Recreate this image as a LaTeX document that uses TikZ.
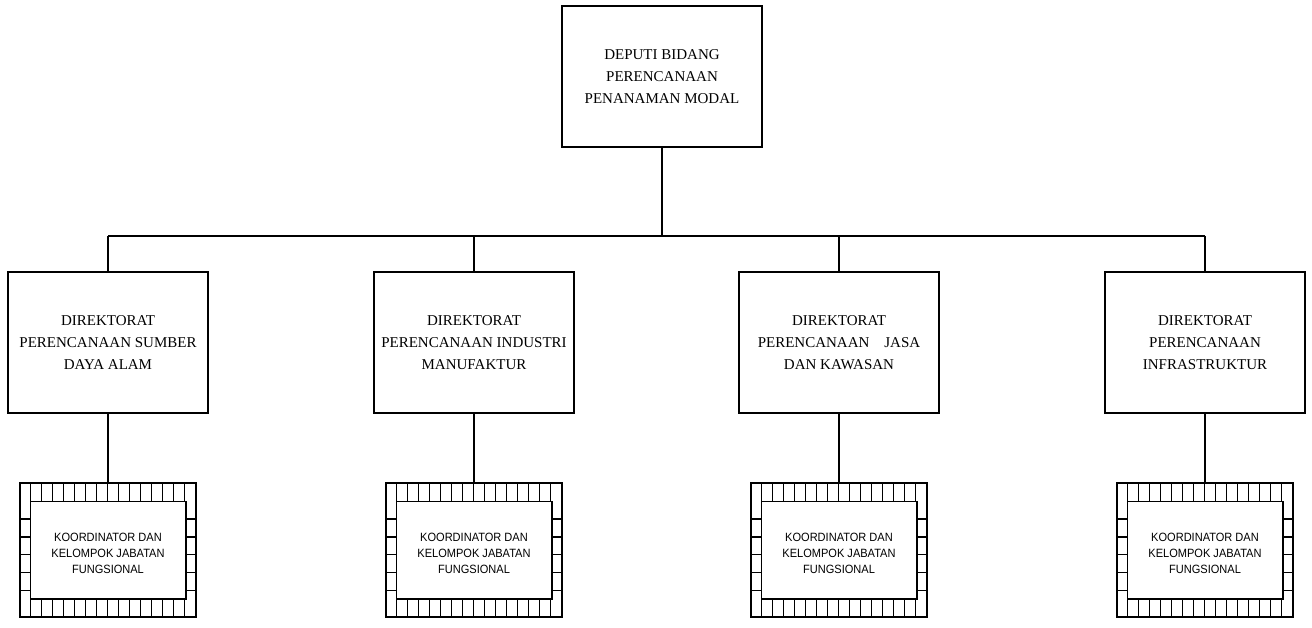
\documentclass[tikz,border=0pt]{standalone}
\usepackage{fontspec}
\setmainfont{Liberation Serif}
\newfontfamily\kfjfont[FakeStretch=0.92]{Liberation Sans}
\usetikzlibrary{calc}
\begin{document}
\begin{tikzpicture}[x=1pt,y=-1pt,
  unit/.style={draw, line width=1.8pt, minimum width=200pt, minimum height=141pt,
    inner sep=0pt, align=center, font=\fontsize{15}{22}\selectfont},
  kfjbox/.style={draw, line width=1.5pt, minimum width=176pt, minimum height=134pt, inner sep=0pt},
  kfjtext/.style={align=center, inner sep=0pt, font=\kfjfont\fontsize{12}{16.3}\selectfont},
  link/.style={line width=1.6pt},
  grid/.style={line width=1.5pt},
]
\useasboundingbox (0,0) rectangle (1312,628);

% top level
\node[unit] (deputi) at (662,76.5) {DEPUTI BIDANG\\PERENCANAAN\\PENANAMAN MODAL};

% directorates
\node[unit] (dir1) at (108,342.5) {DIREKTORAT\\PERENCANAAN SUMBER\\DAYA ALAM};
\node[unit] (dir2) at (474,342.5) {DIREKTORAT\\PERENCANAAN INDUSTRI\\MANUFAKTUR};
\node[unit] (dir3) at (839,342.5) {DIREKTORAT\\PERENCANAAN\hspace{15pt}JASA\\DAN KAWASAN};
\node[unit] (dir4) at (1205,342.5) {DIREKTORAT\\PERENCANAAN\\INFRASTRUKTUR};

% functional groups with tiled borders
\foreach \i/\x in {1/108, 2/474, 3/839, 4/1205} {
  \node[kfjbox] (kfj\i) at (\x,550) {};
  \node[kfjtext] (kfjt\i) at (\x,553.5) {KOORDINATOR DAN\\KELOMPOK JABATAN\\FUNGSIONAL};
  \draw[grid] ($(kfj\i.north west)+(11,19)$) rectangle ($(kfj\i.south east)+(-11,-19)$);
  \foreach \k in {1,...,15} {
    \draw[grid] ($(kfj\i.north west)+(11*\k,0)$) -- ++(0,19);
    \draw[grid] ($(kfj\i.south west)+(11*\k,0)$) -- ++(0,-19);
  }
  \foreach \k in {1,...,5} {
    \draw[grid] ($(kfj\i.north west)+(0,19+17.8*\k)$) -- ++(11,0);
    \draw[grid] ($(kfj\i.north east)+(0,19+17.8*\k)$) -- ++(-11,0);
  }
  \draw[link] (dir\i.south) -- (kfj\i.north);
}

% bus between levels
\coordinate (busM) at (662,236);
\draw[link] (deputi.south) -- (busM);
\draw[link] (dir1.north |- busM) -- (dir4.north |- busM);
\foreach \i in {1,...,4}
  \draw[link] (dir\i.north |- busM) -- (dir\i.north);
\end{tikzpicture}
\end{document}
